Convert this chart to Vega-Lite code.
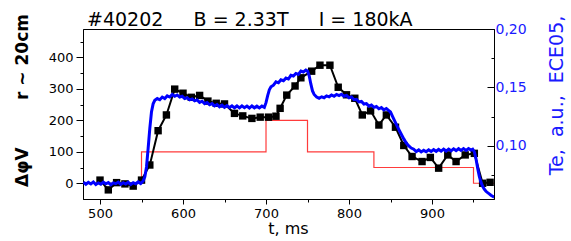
{
  "$schema": "https://vega.github.io/schema/vega-lite/v6.json",
  "width": 411,
  "height": 170,
  "autosize": {"type": "none"},
  "padding": {"left": 83, "top": 29, "right": 77, "bottom": 42},
  "background": "white",
  "config": {"view": {"stroke": "black", "strokeWidth": 1}, "font": "DejaVu Sans"},
  "title": {
    "text": "#40202\u00a0\u00a0\u00a0\u00a0\u00a0B = 2.33T\u00a0\u00a0\u00a0\u00a0\u00a0I = 180kA",
    "anchor": "start",
    "frame": "group",
    "orient": "top",
    "offset": 0,
    "baseline": "alphabetic",
    "font": "DejaVu Sans",
    "fontSize": 19,
    "fontWeight": "normal",
    "color": "black",
    "dx": 4,
    "dy": 31
  },
  "datasets": {
    "step": [
      {"t": 479.5, "v": 0}, {"t": 550, "v": 100}, {"t": 700, "v": 200}, {"t": 750, "v": 100},
      {"t": 830, "v": 50}, {"t": 950, "v": 0}, {"t": 975, "v": 0}
    ],
    "dphi": [
      {"t": 500, "v": 10}, {"t": 510, "v": -21}, {"t": 520, "v": 2}, {"t": 530, "v": -2}, {"t": 540, "v": -9},
      {"t": 550, "v": 10}, {"t": 560, "v": 58}, {"t": 570, "v": 167}, {"t": 580, "v": 217}, {"t": 590, "v": 299},
      {"t": 600, "v": 286}, {"t": 610, "v": 273}, {"t": 620, "v": 279}, {"t": 630, "v": 261}, {"t": 640, "v": 254},
      {"t": 650, "v": 252}, {"t": 662, "v": 222}, {"t": 672, "v": 214}, {"t": 683, "v": 206}, {"t": 693, "v": 210},
      {"t": 703, "v": 210}, {"t": 712, "v": 213}, {"t": 717, "v": 238}, {"t": 725, "v": 280}, {"t": 735, "v": 309},
      {"t": 742, "v": 335}, {"t": 755, "v": 356}, {"t": 765, "v": 375}, {"t": 777, "v": 375}, {"t": 787, "v": 305},
      {"t": 797, "v": 281}, {"t": 807, "v": 270}, {"t": 816, "v": 217}, {"t": 826, "v": 230}, {"t": 836, "v": 185},
      {"t": 845, "v": 217}, {"t": 856, "v": 178}, {"t": 866, "v": 120}, {"t": 876, "v": 85}, {"t": 888, "v": 69},
      {"t": 898, "v": 82}, {"t": 908, "v": 48}, {"t": 919, "v": 90}, {"t": 929, "v": 69}, {"t": 940, "v": 90},
      {"t": 951, "v": 95}, {"t": 961, "v": 0}, {"t": 970, "v": 3}
    ],
    "te": [
      {"t": 480, "te": 0.0690}, {"t": 483, "te": 0.0672}, {"t": 486, "te": 0.0688}, {"t": 489, "te": 0.0675},
      {"t": 492, "te": 0.0692}, {"t": 495, "te": 0.0670}, {"t": 498, "te": 0.0684}, {"t": 501, "te": 0.0673},
      {"t": 504, "te": 0.0690}, {"t": 507, "te": 0.0676}, {"t": 510, "te": 0.0686}, {"t": 513, "te": 0.0668},
      {"t": 516, "te": 0.0684}, {"t": 519, "te": 0.0677}, {"t": 522, "te": 0.0691}, {"t": 525, "te": 0.0671},
      {"t": 528, "te": 0.0685}, {"t": 531, "te": 0.0674}, {"t": 534, "te": 0.0689}, {"t": 537, "te": 0.0670},
      {"t": 540, "te": 0.0686}, {"t": 543, "te": 0.0676}, {"t": 546, "te": 0.0692}, {"t": 549, "te": 0.0678},
      {"t": 552, "te": 0.0700}, {"t": 554, "te": 0.0735}, {"t": 556, "te": 0.0820}, {"t": 558, "te": 0.0980},
      {"t": 560, "te": 0.1150}, {"t": 562, "te": 0.1290}, {"t": 564, "te": 0.1360}, {"t": 566, "te": 0.1390},
      {"t": 569, "te": 0.1405}, {"t": 572, "te": 0.1395}, {"t": 575, "te": 0.1418}, {"t": 578, "te": 0.1405},
      {"t": 581, "te": 0.1428}, {"t": 584, "te": 0.1418}, {"t": 587, "te": 0.1440}, {"t": 590, "te": 0.1425},
      {"t": 593, "te": 0.1436}, {"t": 596, "te": 0.1418}, {"t": 599, "te": 0.1425}, {"t": 602, "te": 0.1405},
      {"t": 605, "te": 0.1412}, {"t": 608, "te": 0.1394}, {"t": 611, "te": 0.1402}, {"t": 614, "te": 0.1385},
      {"t": 617, "te": 0.1393}, {"t": 620, "te": 0.1372}, {"t": 623, "te": 0.1382}, {"t": 626, "te": 0.1362},
      {"t": 629, "te": 0.1372}, {"t": 632, "te": 0.1352}, {"t": 635, "te": 0.1362}, {"t": 638, "te": 0.1342},
      {"t": 641, "te": 0.1354}, {"t": 644, "te": 0.1334}, {"t": 647, "te": 0.1348}, {"t": 650, "te": 0.1330},
      {"t": 653, "te": 0.1345}, {"t": 656, "te": 0.1328}, {"t": 659, "te": 0.1343}, {"t": 662, "te": 0.1326},
      {"t": 665, "te": 0.1342}, {"t": 668, "te": 0.1325}, {"t": 671, "te": 0.1343}, {"t": 674, "te": 0.1327},
      {"t": 677, "te": 0.1341}, {"t": 680, "te": 0.1324}, {"t": 683, "te": 0.1342}, {"t": 686, "te": 0.1326},
      {"t": 689, "te": 0.1340}, {"t": 692, "te": 0.1325}, {"t": 695, "te": 0.1341}, {"t": 698, "te": 0.1330},
      {"t": 700, "te": 0.1370}, {"t": 702, "te": 0.1430}, {"t": 704, "te": 0.1480}, {"t": 706, "te": 0.1505},
      {"t": 709, "te": 0.1520}, {"t": 712, "te": 0.1548}, {"t": 715, "te": 0.1540}, {"t": 718, "te": 0.1565},
      {"t": 721, "te": 0.1558}, {"t": 724, "te": 0.1580}, {"t": 727, "te": 0.1572}, {"t": 730, "te": 0.1604},
      {"t": 733, "te": 0.1598}, {"t": 736, "te": 0.1620}, {"t": 739, "te": 0.1612}, {"t": 742, "te": 0.1640},
      {"t": 745, "te": 0.1632}, {"t": 748, "te": 0.1648}, {"t": 750, "te": 0.1640}, {"t": 752, "te": 0.1600},
      {"t": 754, "te": 0.1530}, {"t": 756, "te": 0.1470}, {"t": 758, "te": 0.1440}, {"t": 761, "te": 0.1418},
      {"t": 764, "te": 0.1408}, {"t": 767, "te": 0.1420}, {"t": 770, "te": 0.1412}, {"t": 773, "te": 0.1428},
      {"t": 776, "te": 0.1420}, {"t": 779, "te": 0.1436}, {"t": 782, "te": 0.1425}, {"t": 785, "te": 0.1440},
      {"t": 788, "te": 0.1430}, {"t": 791, "te": 0.1442}, {"t": 794, "te": 0.1425}, {"t": 797, "te": 0.1432},
      {"t": 800, "te": 0.1412}, {"t": 803, "te": 0.1418}, {"t": 806, "te": 0.1395}, {"t": 809, "te": 0.1398},
      {"t": 812, "te": 0.1376}, {"t": 815, "te": 0.1380}, {"t": 818, "te": 0.1358}, {"t": 821, "te": 0.1362},
      {"t": 824, "te": 0.1340}, {"t": 827, "te": 0.1350}, {"t": 830, "te": 0.1330}, {"t": 833, "te": 0.1338},
      {"t": 836, "te": 0.1318}, {"t": 839, "te": 0.1328}, {"t": 842, "te": 0.1308}, {"t": 845, "te": 0.1320},
      {"t": 848, "te": 0.1302}, {"t": 850, "te": 0.1290}, {"t": 852, "te": 0.1260}, {"t": 854, "te": 0.1230},
      {"t": 856, "te": 0.1200}, {"t": 858, "te": 0.1170}, {"t": 860, "te": 0.1140}, {"t": 863, "te": 0.1100},
      {"t": 866, "te": 0.1060}, {"t": 869, "te": 0.1025}, {"t": 872, "te": 0.1000}, {"t": 875, "te": 0.0982},
      {"t": 878, "te": 0.0972}, {"t": 881, "te": 0.0952}, {"t": 884, "te": 0.0966}, {"t": 887, "te": 0.0948},
      {"t": 890, "te": 0.0962}, {"t": 893, "te": 0.0950}, {"t": 896, "te": 0.0966}, {"t": 899, "te": 0.0952},
      {"t": 902, "te": 0.0968}, {"t": 905, "te": 0.0954}, {"t": 908, "te": 0.0970}, {"t": 911, "te": 0.0955},
      {"t": 914, "te": 0.0972}, {"t": 917, "te": 0.0956}, {"t": 920, "te": 0.0973}, {"t": 923, "te": 0.0958},
      {"t": 926, "te": 0.0975}, {"t": 929, "te": 0.0960}, {"t": 932, "te": 0.0976}, {"t": 935, "te": 0.0961},
      {"t": 938, "te": 0.0977}, {"t": 941, "te": 0.0962}, {"t": 944, "te": 0.0978}, {"t": 947, "te": 0.0965},
      {"t": 949, "te": 0.0972}, {"t": 951, "te": 0.0950}, {"t": 953, "te": 0.0890}, {"t": 955, "te": 0.0810},
      {"t": 957, "te": 0.0740}, {"t": 959, "te": 0.0690}, {"t": 961, "te": 0.0655}, {"t": 963, "te": 0.0630},
      {"t": 965, "te": 0.0612}, {"t": 967, "te": 0.0600}, {"t": 969, "te": 0.0590}, {"t": 971, "te": 0.0578},
      {"t": 973, "te": 0.0570}, {"t": 975, "te": 0.0562}
    ]
  },
  "encoding": {
    "x": {
      "field": "t",
      "type": "quantitative",
      "scale": {"domain": [479.5, 974.7], "nice": false, "zero": false},
      "axis": {
        "values": [500, 550, 600, 650, 700, 750, 800, 850, 900, 950],
        "labelExpr": "datum.value % 100 === 0 ? datum.label : ''",
        "tickSize": {"condition": {"test": "datum.value % 100 === 0", "value": 5}, "value": 3},
        "labelPadding": 3,
        "labelFlush": false,
        "labelOverlap": false,
        "labelFont": "DejaVu Sans",
        "labelFontSize": 13,
        "labelColor": "black",
        "domainColor": "black",
        "tickColor": "black",
        "grid": false,
        "title": "t, ms",
        "titleFont": "DejaVu Sans",
        "titleFontSize": 16,
        "titleFontWeight": "normal",
        "titleColor": "black",
        "titleX": 205,
        "titleY": 29,
        "titleAlign": "center",
        "titleBaseline": "middle"
      }
    }
  },
  "layer": [
    {
      "encoding": {
        "y": {
          "field": "v",
          "type": "quantitative",
          "scale": {"domain": [-50, 490], "nice": false, "zero": false},
          "axis": {
            "orient": "left",
            "values": [0, 50, 100, 150, 200, 250, 300, 350, 400, 450],
            "labelExpr": "datum.value % 100 === 0 ? datum.label : ''",
            "tickSize": {"condition": {"test": "datum.value % 100 === 0", "value": 7}, "value": 3},
            "labelPadding": 3,
            "labelFlush": false,
            "labelOverlap": false,
            "labelFont": "DejaVu Sans",
            "labelFontSize": 13,
            "labelColor": "black",
            "domainColor": "black",
            "tickColor": "black",
            "grid": false,
            "title": "\u0394\u03c6V\u00a0\u00a0\u00a0\u00a0\u00a0\u00a0\u00a0\u00a0r ~ 20cm",
            "titleFont": "DejaVu Sans",
            "titleFontSize": 17,
            "titleFontWeight": "bold",
            "titleColor": "black",
            "titleAngle": 270,
            "titleX": -61,
            "titleY": 71,
            "titleAlign": "center",
            "titleBaseline": "middle"
          }
        }
      },
      "layer": [
        {
          "data": {"name": "step"},
          "mark": {"type": "line", "interpolate": "step-after", "color": "#ff3b3b", "strokeWidth": 1.2, "clip": true}
        },
        {
          "data": {"name": "dphi"},
          "mark": {"type": "line", "color": "black", "strokeWidth": 2, "clip": true}
        },
        {
          "data": {"name": "dphi"},
          "mark": {"type": "point", "shape": "square", "filled": true, "size": 55, "color": "black", "opacity": 1, "clip": true}
        }
      ]
    },
    {
      "data": {"name": "te"},
      "mark": {"type": "line", "color": "#0000ff", "strokeWidth": 3, "clip": true},
      "encoding": {
        "y": {
          "field": "te",
          "type": "quantitative",
          "scale": {"domain": [0.0546, 0.2], "nice": false, "zero": false},
          "axis": {
            "orient": "right",
            "values": [0.075, 0.1, 0.125, 0.15, 0.175, 0.2],
            "labelExpr": "round(datum.value * 1000) % 50 === 0 ? replace(format(datum.value, '.2f'), '.', ',') : ''",
            "tickSize": {"condition": {"test": "round(datum.value * 1000) % 50 === 0", "value": -7}, "value": -3},
            "labelPadding": 8,
            "labelFlush": false,
            "labelOverlap": false,
            "labelFont": "DejaVu Sans",
            "labelFontSize": 14,
            "labelColor": "#1a1aff",
            "domainColor": "black",
            "tickColor": "black",
            "grid": false,
            "title": "Te,\u00a0\u00a0a.u.,\u00a0\u00a0ECE05,",
            "titleFont": "DejaVu Sans",
            "titleFontSize": 19,
            "titleFontWeight": "normal",
            "titleColor": "#1a1aff",
            "titleAngle": 270,
            "titleX": 62,
            "titleY": 66,
            "titleAlign": "center",
            "titleBaseline": "middle"
          }
        }
      }
    }
  ],
  "resolve": {"scale": {"y": "independent"}}
}
